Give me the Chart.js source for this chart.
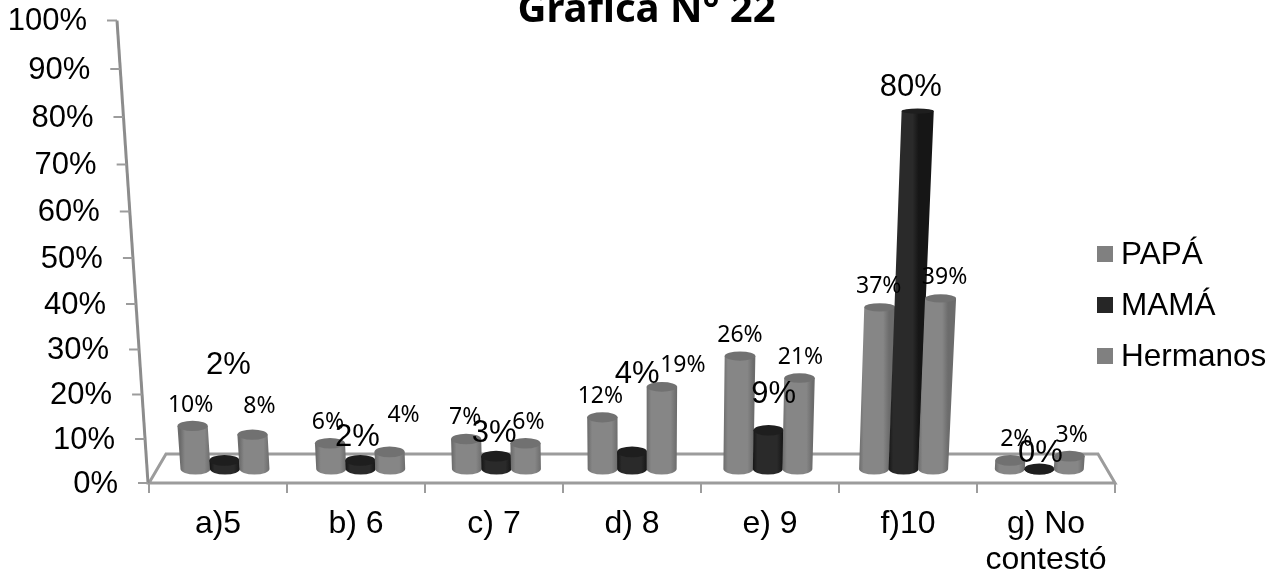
<!DOCTYPE html>
<html lang="es">
<head>
    <meta charset="UTF-8">
    <title>Gráfica N° 22</title>
    <script src="https://cdn.jsdelivr.net/npm/chart.js"></script>
    <style>
        body { margin: 0; background: #fff; }
        canvas { display: block; }
    </style>
</head>
<body>
    <canvas id="grafica" width="1284" height="573"></canvas>
    <script>
        const categories = ['a)5', 'b) 6', 'c) 7', 'd) 8', 'e) 9', 'f)10', ['g) No', 'contestó']];
        const papa = [10, 6, 7, 12, 26, 37, 2];
        const mama = [2, 2, 3, 4, 9, 80, 0];
        const hermanos = [8, 4, 6, 19, 21, 39, 3];
        const yTicks = [0, 10, 20, 30, 40, 50, 60, 70, 80, 90, 100];

        const ARIAL = '"Liberation Sans", Arial, sans-serif';
        const LABEL_FONT = '"Noto Sans", sans-serif';
        const VANISH_X = 641; // the fake 3D view leans everything towards this x

        // [edge, centre, top cap] for each series
        const shades = [
            ['#6c6c6c', '#868686', '#717171'],
            ['#161616', '#2a2a2a', '#1e1e1e'],
            ['#6c6c6c', '#868686', '#717171']
        ];
        // data labels were dragged by hand in the original: distance above
        // the bar top and sideways shift, per series
        const labelLift = [
            [21, 21, 21, 21, 21, 21, 21],
            [95, 23, 23, 77, 36, 24, 16],
            [28, 36, 21, 21, 21, 21, 21]
        ];
        const labelShift = [
            [-2, -2, -1, -2, 0, -1, 6],
            [4, -3, -2, 5, 5, -7, 1],
            [7, 14, 3, 21, 1, 4, 2]
        ];

        // perspective: the y axis steps get slightly longer going up
        function warp(chart, px) {
            const area = chart.chartArea;
            const h = area.bottom - area.top;
            const t = (area.bottom - px) / h;
            return area.bottom - h * (0.946 * t + 0.054 * t * t);
        }

        function cylinderGeom(chart, el) {
            const y0 = el.base;
            const h = (y0 - warp(chart, el.y)) * 0.978;
            const baseX = el.x + (VANISH_X - el.x) * 0.0165;
            const baseY = y0 - 14;
            return {
                baseX,
                baseY,
                topX: baseX + (baseX - VANISH_X) * 0.00015 * h,
                topY: baseY - h,
                half: el.width / 2,
                halfTop: el.width / 2 * (1 + h * 0.0002),
                ry: 5.5,
                ryTop: 5.5 - h * 0.008
            };
        }

        function drawCylinder(chart, el, shade) {
            const ctx = chart.ctx;
            const g = cylinderGeom(chart, el);
            const grad = ctx.createLinearGradient(g.baseX - g.half, 0, g.baseX + g.half, 0);
            grad.addColorStop(0, shade[0]);
            grad.addColorStop(0.15, shade[1]);
            grad.addColorStop(0.8, shade[1]);
            grad.addColorStop(1, shade[0]);
            ctx.fillStyle = grad;
            ctx.beginPath();
            ctx.moveTo(g.baseX - g.half, g.baseY);
            ctx.lineTo(g.topX - g.halfTop, g.topY);
            ctx.lineTo(g.topX + g.halfTop, g.topY);
            ctx.lineTo(g.baseX + g.half, g.baseY);
            ctx.ellipse(g.baseX, g.baseY, g.half, g.ry, 0, 0, Math.PI);
            ctx.closePath();
            ctx.fill();
            ctx.fillStyle = shade[2];
            ctx.beginPath();
            ctx.ellipse(g.topX, g.topY, g.halfTop, g.ryTop, 0, 0, Math.PI * 2);
            ctx.fill();
        }

        function drawAxes(chart) {
            const ctx = chart.ctx;
            const x = chart.scales.x;
            const y = chart.scales.y;
            const bottom = y.getPixelForValue(0);
            ctx.save();
            ctx.strokeStyle = '#9c9c9c';
            ctx.lineWidth = 3;
            ctx.beginPath();
            // floor
            ctx.moveTo(x.left, bottom);
            ctx.lineTo(x.left + 17, bottom - 29);
            ctx.lineTo(x.right - 17, bottom - 29);
            ctx.lineTo(x.right, bottom);
            ctx.closePath();
            ctx.stroke();

            // leaning y axis
            ctx.strokeStyle = '#8c8c8c';
            ctx.beginPath();
            ctx.moveTo(x.left - 1, bottom);
            ctx.lineTo(x.left - 32, y.getPixelForValue(100));
            ctx.stroke();

            ctx.strokeStyle = '#9c9c9c';
            ctx.lineWidth = 2;
            ctx.beginPath();
            categories.forEach((c, i) => {
                const tx = x.left + (x.right - x.left) / categories.length * i;
                ctx.moveTo(tx, bottom);
                ctx.lineTo(tx, bottom + 10);
            });
            ctx.moveTo(x.right, bottom);
            ctx.lineTo(x.right, bottom + 10);
            ctx.stroke();

            ctx.fillStyle = '#000';
            ctx.font = '31px ' + ARIAL;
            ctx.textAlign = 'right';
            ctx.textBaseline = 'middle';
            yTicks.forEach(v => {
                const py = warp(chart, y.getPixelForValue(v));
                const ax = x.left - 1 - 31 * (bottom - py) / (bottom - y.getPixelForValue(100));
                ctx.beginPath();
                ctx.moveTo(ax, py);
                ctx.lineTo(ax - 10, py);
                ctx.stroke();
                ctx.fillText(v + '%', ax - 30, py + 1);
            });
            ctx.restore();
        }

        const cylinders = {
            id: 'cylinders',
            afterLayout(chart) {
                // title sits a little right of the page centre
                chart.titleBlock.left += 7;
                chart.titleBlock.right += 22;
            },
            beforeDatasetsDraw(chart) {
                drawAxes(chart);
                chart.data.datasets.forEach((d, s) => {
                    chart.getDatasetMeta(s).data.forEach(el => drawCylinder(chart, el, shades[s]));
                });
                return false; // no flat bars
            },
            afterDraw(chart) {
                const ctx = chart.ctx;
                ctx.save();
                ctx.fillStyle = '#000';
                ctx.textAlign = 'center';
                ctx.textBaseline = 'middle';
                chart.data.datasets.forEach((d, s) => {
                    ctx.font = s === 1 ? '31px ' + ARIAL : '23px ' + LABEL_FONT;
                    chart.getDatasetMeta(s).data.forEach((el, i) => {
                        const g = cylinderGeom(chart, el);
                        ctx.fillText(d.data[i] + '%', g.topX + labelShift[s][i], g.topY - labelLift[s][i]);
                    });
                });
                // legend
                chart.data.datasets.forEach((d, s) => {
                    const ly = 254 + s * 51;
                    ctx.fillStyle = d.backgroundColor;
                    ctx.fillRect(1097, ly - 8, 16, 16);
                    ctx.fillStyle = '#000';
                    ctx.font = '31.5px ' + ARIAL;
                    ctx.textAlign = 'left';
                    ctx.fillText(d.label, 1121, ly + 1);
                });
                ctx.restore();
            }
        };

        new Chart(document.getElementById('grafica'), {
            type: 'bar',
            data: {
                labels: categories,
                datasets: [
                    { label: 'PAPÁ', data: papa, backgroundColor: '#808080' },
                    { label: 'MAMÁ', data: mama, backgroundColor: '#262626' },
                    { label: 'Hermanos', data: hermanos, backgroundColor: '#808080' }
                ]
            },
            plugins: [cylinders],
            options: {
                responsive: false,
                animation: false,
                layout: { padding: { left: 149, right: 169, top: 0, bottom: 0 } },
                datasets: { bar: { barPercentage: 1, categoryPercentage: 0.652 } },
                plugins: {
                    legend: { display: false },
                    tooltip: { enabled: false },
                    title: {
                        display: true,
                        text: 'Gráfica N° 22',
                        color: '#000',
                        padding: 0,
                        font: { family: LABEL_FONT, size: 40, weight: 'bold', lineHeight: 0.5125 }
                    }
                },
                scales: {
                    x: {
                        grid: { display: false },
                        border: { display: false },
                        afterFit(s) { s.height = 90; },
                        ticks: {
                            color: '#000',
                            autoSkip: false,
                            maxRotation: 0,
                            padding: 15,
                            font: { family: ARIAL, size: 32, lineHeight: 1.12 }
                        }
                    },
                    y: {
                        min: 0,
                        max: 100,
                        grid: { display: false },
                        border: { display: false },
                        afterFit(s) { s.width = 0; },
                        ticks: { display: false, stepSize: 10 }
                    }
                }
            }
        });
    </script>
</body>
</html>
